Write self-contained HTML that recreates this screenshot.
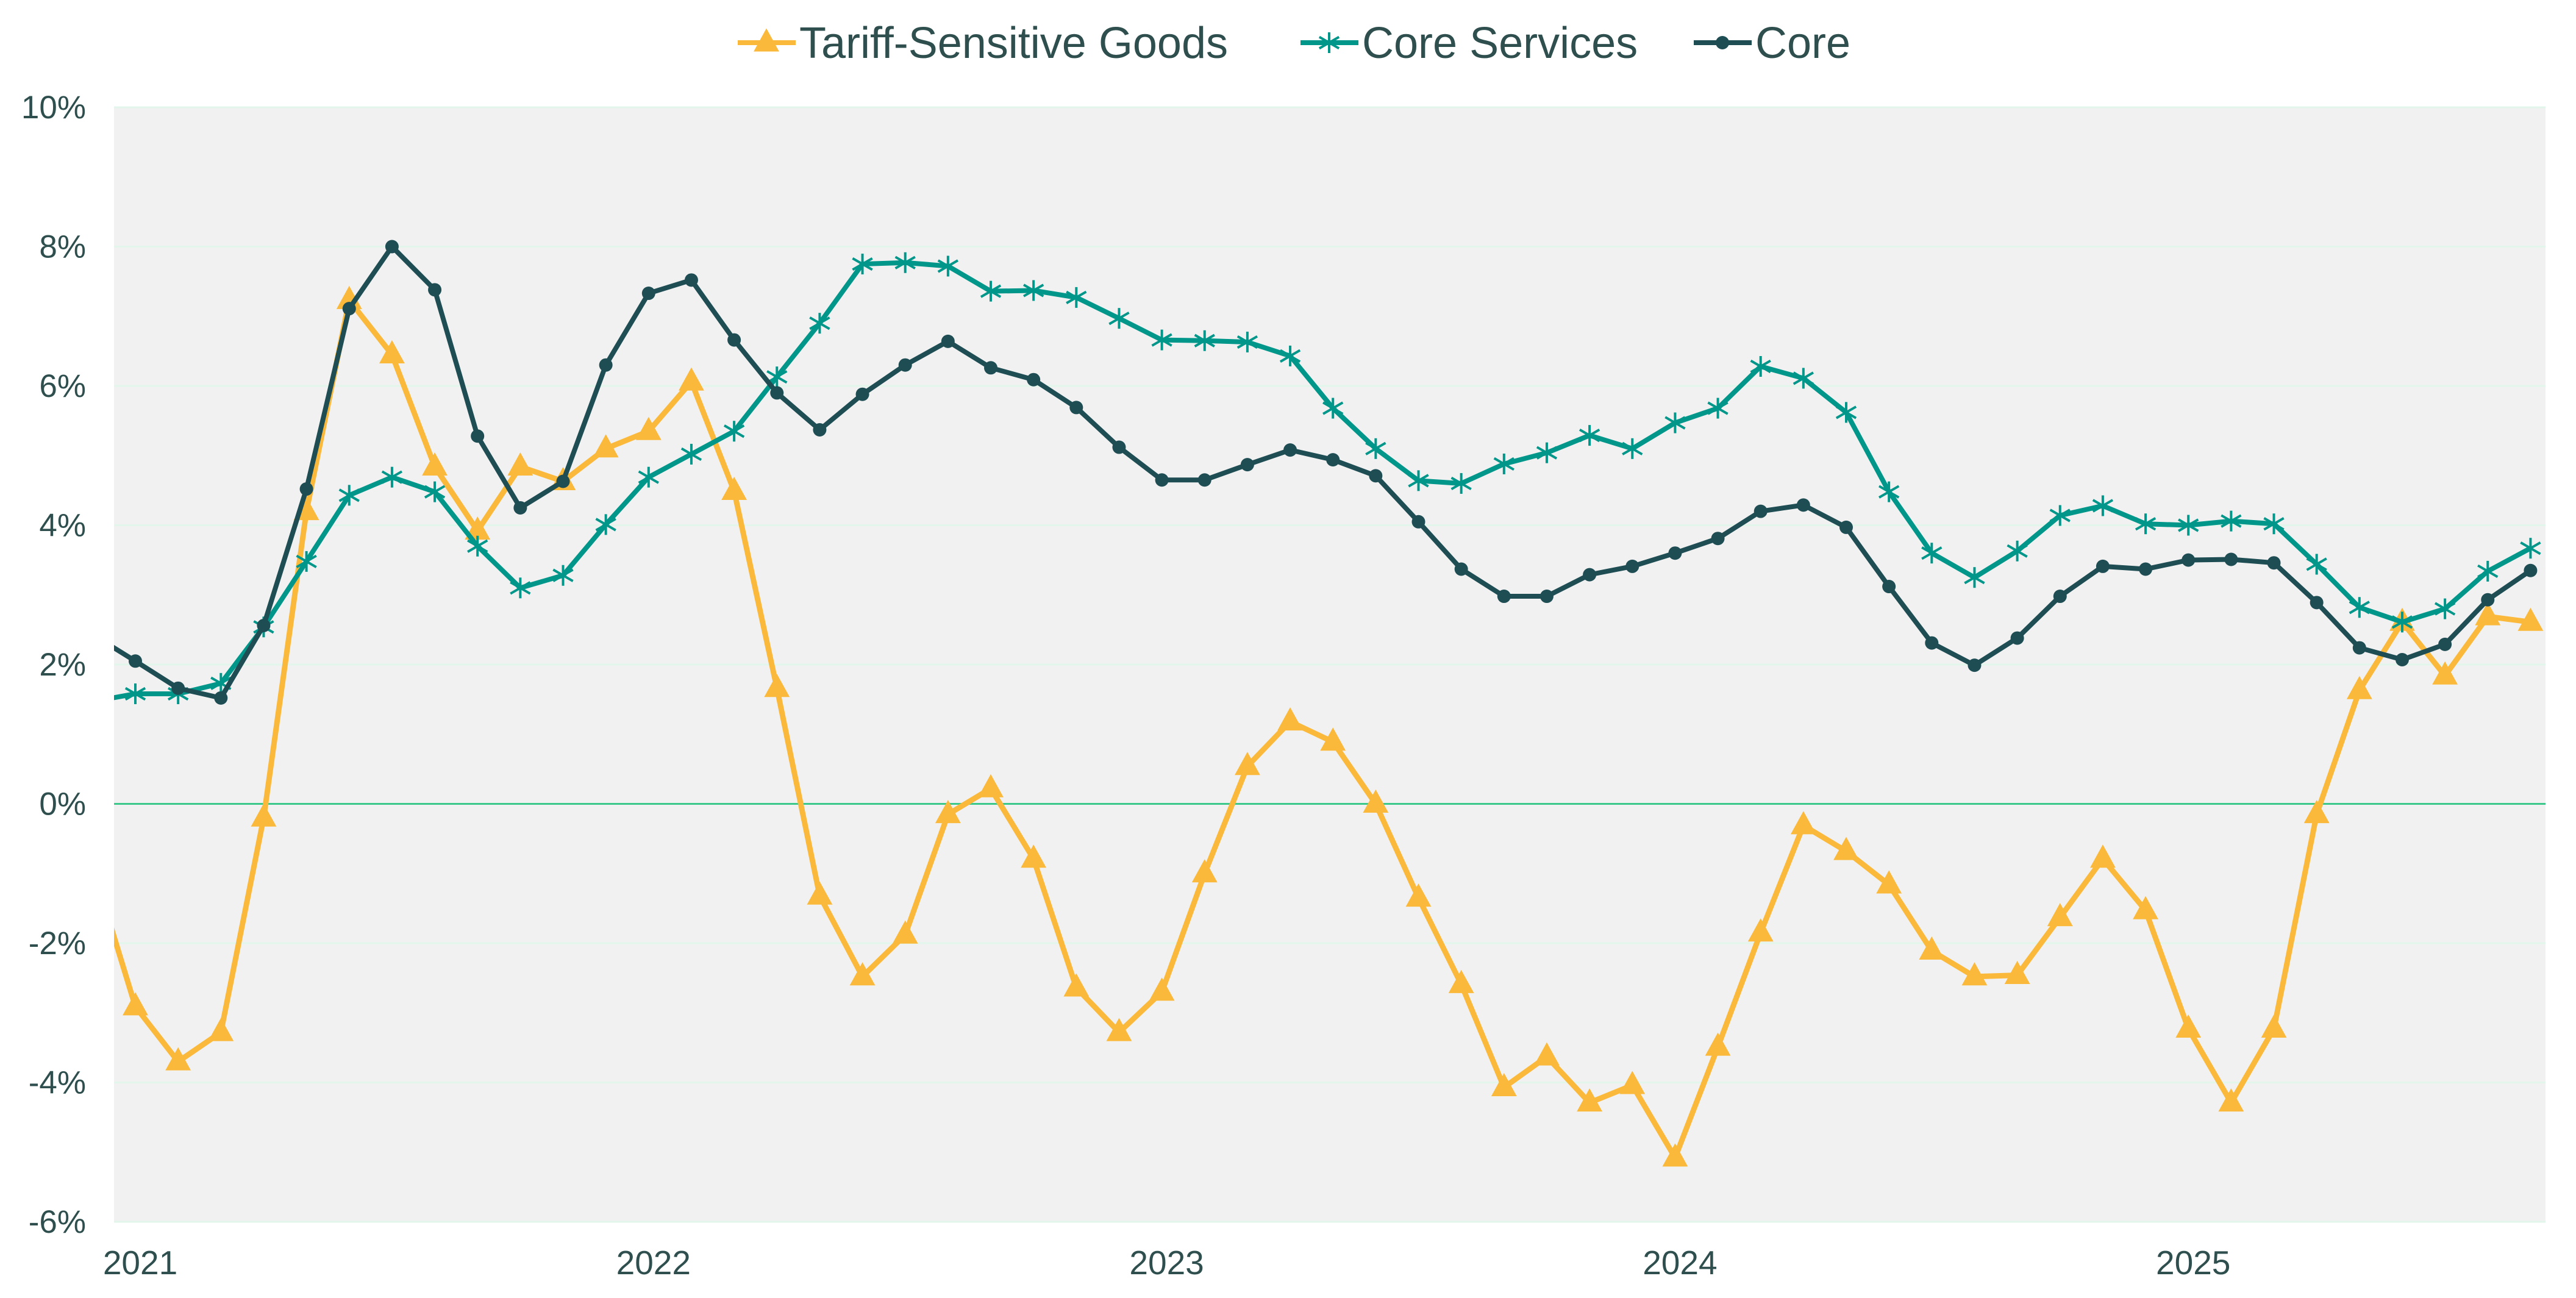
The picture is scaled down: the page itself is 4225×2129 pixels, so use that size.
<!DOCTYPE html>
<html><head><meta charset="utf-8"><style>
html,body{margin:0;padding:0;background:#fff;}
svg{display:block;font-family:"Liberation Sans",Arial,sans-serif;}
</style></head><body>
<svg id="chart" width="4225" height="2129" viewBox="0 0 4225 2129" xmlns="http://www.w3.org/2000/svg">
<defs><clipPath id="plotclip"><rect x="187" y="176" width="3988" height="1828"/></clipPath></defs>
<rect x="187" y="176" width="3988" height="1828" fill="#f1f1f1"/>
<g id="grid"></g>
<g id="series" clip-path="url(#plotclip)"></g>
<g id="axes"></g>
<g id="legend"></g>
</svg>
<script>
const years = ["2021","2022","2023","2024","2025"];
const yTicks = [-6,-4,-2,0,2,4,6,8,10];
// index 0 = Dec 2020, then monthly through Sep 2025
const tariffGoods = [-0.9,-2.91,-3.70,-3.28,-0.20,4.20,7.23,6.45,4.84,3.92,4.84,4.63,5.10,5.35,6.06,4.49,1.66,-1.32,-2.48,-1.88,-0.15,0.22,-0.79,-2.64,-3.28,-2.70,-1.0,0.54,1.18,0.89,0.0,-1.35,-2.59,-4.07,-3.63,-4.29,-4.04,-5.08,-3.49,-1.85,-0.31,-0.68,-1.16,-2.11,-2.48,-2.46,-1.63,-0.79,-1.53,-3.23,-4.29,-3.23,-0.15,1.63,2.61,1.84,2.69,2.61];
const coreServices = [1.47,1.58,1.58,1.73,2.54,3.48,4.43,4.69,4.48,3.70,3.10,3.28,4.01,4.69,5.02,5.35,6.13,6.90,7.75,7.77,7.72,7.36,7.37,7.27,6.97,6.66,6.65,6.63,6.43,5.68,5.10,4.64,4.60,4.88,5.04,5.29,5.10,5.47,5.68,6.28,6.11,5.62,4.48,3.60,3.25,3.63,4.14,4.28,4.02,4.00,4.06,4.02,3.44,2.82,2.61,2.80,3.34,3.67];
const core = [2.43,2.05,1.66,1.52,2.56,4.52,7.11,8.0,7.38,5.28,4.25,4.63,6.30,7.33,7.52,6.66,5.90,5.37,5.88,6.30,6.64,6.26,6.09,5.69,5.12,4.65,4.65,4.87,5.08,4.94,4.71,4.05,3.37,2.98,2.98,3.29,3.41,3.60,3.81,4.20,4.29,3.97,3.12,2.31,1.99,2.38,2.98,3.41,3.37,3.50,3.51,3.46,2.89,2.24,2.07,2.29,2.93,3.35];

const NS="http://www.w3.org/2000/svg";
const X0=187,X1=4175,Y0=176,Y1=2004;
function xPos(i){return 222+70.15*(i-1);}
function yPos(v){return Y1-(v-(-6))/16*(Y1-Y0);}
function mk(tag,attrs,parent){const e=document.createElementNS(NS,tag);for(const k in attrs)e.setAttribute(k,attrs[k]);parent.appendChild(e);return e;}
const grid=document.getElementById('grid'),axes=document.getElementById('axes'),series=document.getElementById('series'),legend=document.getElementById('legend');

yTicks.forEach(v=>{
  const y=yPos(v);
  const l=mk('line',{x1:X0,x2:X1,y1:y,y2:y,stroke:v===0?'#3cc88a':'#e3f6ec','stroke-width':3},grid);
  
  
  const t=mk('text',{x:141,y:y+18,'text-anchor':'end','font-size':53,fill:'#2f4f4f'},axes);
  t.textContent=v+'%';
  
  
});
years.forEach((yr,k)=>{
  const x=xPos(1+12*k);
  const t=mk('text',{x:x+8,y:2090,'text-anchor':'middle','font-size':55,fill:'#2f4f4f'},axes);
  t.textContent=yr;
  
  
});

function tri(cx,cy,s){return `${cx},${cy-s*0.62} ${cx-s*0.55},${cy+s*0.38} ${cx+s*0.55},${cy+s*0.38}`;}
function star(g,cx,cy,r,col){
  mk('line',{x1:cx,x2:cx,y1:cy-r,y2:cy+r,stroke:col,'stroke-width':4},g);
  mk('line',{x1:cx-r*0.95,x2:cx+r*0.95,y1:cy-r*0.55,y2:cy+r*0.55,stroke:col,'stroke-width':4},g);
  mk('line',{x1:cx-r*0.95,x2:cx+r*0.95,y1:cy+r*0.55,y2:cy-r*0.55,stroke:col,'stroke-width':4},g);
}
function drawSeries(vals,col,w,marker,name){
  const g=mk('g',{},series);
  
  
  const pts=vals.map((v,i)=>xPos(i)+','+yPos(v)).join(' ');
  mk('polyline',{points:pts,fill:'none',stroke:col,'stroke-width':w,'stroke-linejoin':'round'},g);
  vals.forEach((v,i)=>{
    const cx=xPos(i),cy=yPos(v);
    if(marker==='tri') mk('polygon',{points:tri(cx,cy,38),fill:col},g);
    else if(marker==='dot') mk('circle',{cx:cx,cy:cy,r:11,fill:col},g);
    else star(g,cx,cy,17,col);
  });
}
drawSeries(tariffGoods,'#fbb93b',9,'tri','series-tariff-sensitive-goods');
drawSeries(coreServices,'#00968a',8,'star','series-core-services');
drawSeries(core,'#1e4d54',8,'dot','series-core');

const legItems=[["Tariff-Sensitive Goods",'#fbb93b','tri',1210],["Core Services",'#00968a','star',2133],["Core",'#1e4d54','dot',2778]];
legItems.forEach(([label,col,m,x])=>{
  const g=mk('g',{},legend);
  
  
  const y=70;
  mk('line',{x1:x,x2:x+95,y1:y,y2:y,stroke:col,'stroke-width':8},g);
  if(m==='tri') mk('polygon',{points:tri(x+47,y,38),fill:col},g);
  else if(m==='dot') mk('circle',{cx:x+47,cy:y,r:11,fill:col},g);
  else star(g,x+47,y,17,col);
  const t=mk('text',{x:x+101,y:y+25,'font-size':72,fill:'#2f4f4f'},g);
  t.textContent=label;
});
</script>
</body></html>
